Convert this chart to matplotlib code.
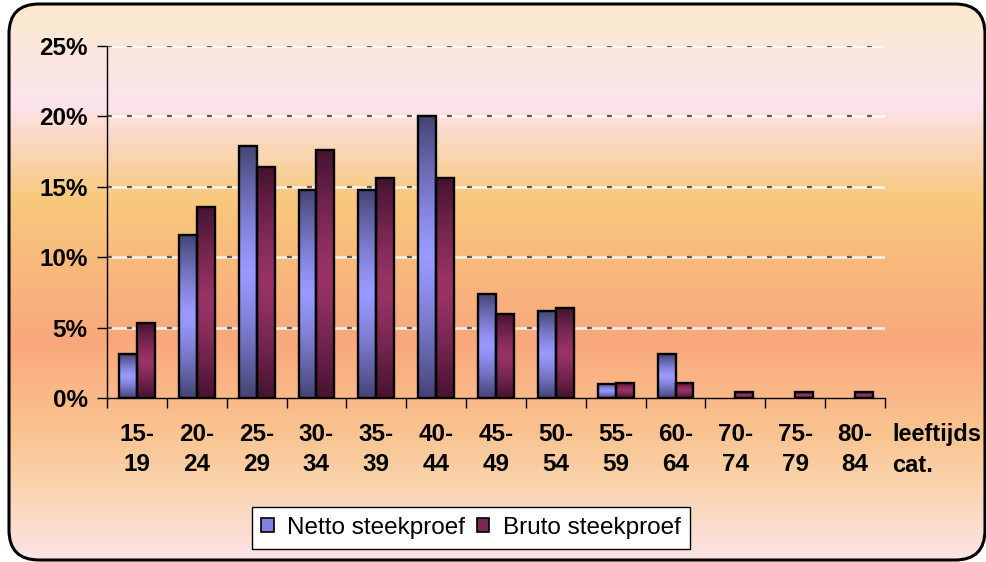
import matplotlib.pyplot as plt
import numpy as np
from matplotlib.colors import LinearSegmentedColormap, to_rgb
from matplotlib.patches import FancyBboxPatch, Patch

plt.rcParams['font.family'] = ['Liberation Sans', 'DejaVu Sans']
plt.rcParams['lines.scale_dashes'] = False

# leeftijdscategorieen en percentages
categories = ["15-\n19", "20-\n24", "25-\n29", "30-\n34", "35-\n39", "40-\n44", "45-\n49",
              "50-\n54", "55-\n59", "60-\n64", "70-\n74", "75-\n79", "80-\n84"]
netto = [3.1, 11.6, 17.9, 14.8, 14.8, 20.0, 7.4, 6.2, 1.0, 3.1, 0.0, 0.0, 0.0]
bruto = [5.3, 13.6, 16.4, 17.6, 15.6, 15.6, 6.0, 6.4, 1.1, 1.1, 0.4, 0.4, 0.4]
yticks = [0, 5, 10, 15, 20, 25]

W, H = 986, 562
fig = plt.figure(figsize=(W / 100, H / 100), dpi=100)
fig.patch.set_facecolor('white')

# achtergrond met kleurverloop binnen afgeronde rand
bg = fig.add_axes([0, 0, 1, 1])
bg.set_xlim(0, W)
bg.set_ylim(H, 0)
bg.axis('off')
stops_y = [4, 100, 200, 340, 430, 480, 560]
stops_c = ['#FAE9CC', '#FCE4EE', '#F8C87C', '#F9A87C', '#F9C38F', '#FAD2AA', '#FCE4E8']
ys = np.arange(H)
rgb = np.array([to_rgb(c) for c in stops_c])
grad = np.stack([np.interp(ys, stops_y, rgb[:, k]) for k in range(3)], axis=1)
img = np.repeat(grad[:, None, :], 2, axis=1)
box = FancyBboxPatch((9, 4), 976, 556, boxstyle="round,pad=0,rounding_size=30",
                     facecolor='none', edgecolor='black', linewidth=2.2, zorder=3)
bg.add_patch(box)
im = bg.imshow(img, extent=[0, W, H, 0], aspect='auto', zorder=1)
im.set_clip_path(box)

# grafiekgebied
ax = fig.add_axes([107 / W, 1 - 398 / H, (885 - 107) / W, (398 - 46) / H])
ax.patch.set_alpha(0)

for y in yticks[1:]:
    ax.axhline(y, color='white', lw=1.8, alpha=0.8, zorder=1)
    ax.axhline(y, color='#5a5a5a', lw=1.6, linestyle=(0, (3.5, 10.9)), zorder=1)

cmap_n = LinearSegmentedColormap.from_list('n', ['#444474', '#9999FF'])
cmap_b = LinearSegmentedColormap.from_list('b', ['#451330', '#993366'])
t = np.linspace(0, 1, 100)
shade = (1 - np.abs(2 * t - 1) ** 1.3)[:, None]

bw = 0.3
for i in range(len(categories)):
    c = i + 0.5
    for x0, val, cm in [(c - bw, netto[i], cmap_n), (c, bruto[i], cmap_b)]:
        if val <= 0:
            continue
        ax.imshow(shade, cmap=cm, vmin=0, vmax=1, extent=[x0, x0 + bw, 0, val],
                  aspect='auto', origin='lower', zorder=2)
        ax.bar(x0, val, width=bw, align='edge', facecolor='none',
               edgecolor='black', linewidth=1.7, zorder=3)

ax.set_xlim(0, len(categories))
ax.set_ylim(0, 25)
ax.set_aspect('auto')

ax.set_yticks(yticks)
ax.set_yticklabels([f"{v}%" for v in yticks], fontsize=17.5, fontweight='bold')
ax.tick_params(axis='y', length=7, width=1, pad=7)

ax.set_xticks(range(len(categories) + 1))
ax.set_xticklabels([])
ax.tick_params(axis='x', which='major', length=7, width=1, direction='out')
ax.set_xticks(np.arange(len(categories)) + 0.5, minor=True)
ax.set_xticklabels(categories, minor=True, fontsize=17.5, fontweight='bold', linespacing=1.4)
ax.tick_params(axis='x', which='minor', length=0, pad=18)

for s in ['top', 'right']:
    ax.spines[s].set_visible(False)
for s in ['left', 'bottom']:
    ax.spines[s].set_linewidth(1)

fig.text(892 / W, 1 - 423 / H, "leeftijds\ncat.", fontsize=17, fontweight='bold',
         ha='left', va='top', linespacing=1.45)

handles = [Patch(facecolor='#8080E0', edgecolor='black', linewidth=1.2),
           Patch(facecolor='#7A2852', edgecolor='black', linewidth=1.2)]
leg = fig.legend(handles, ["Netto steekproef", "Bruto steekproef"], ncol=2,
                 loc='center', bbox_to_anchor=(471 / W, 1 - 528 / H), fontsize=17.5,
                 frameon=True, fancybox=False, handlelength=0.5, handleheight=0.5,
                 handletextpad=0.55, columnspacing=0.5, borderpad=0.4)
leg.get_frame().set_edgecolor('black')
leg.get_frame().set_linewidth(1)
leg.get_frame().set_facecolor('white')
leg.get_frame().set_alpha(1)

fig.savefig('out.png', dpi=100)
